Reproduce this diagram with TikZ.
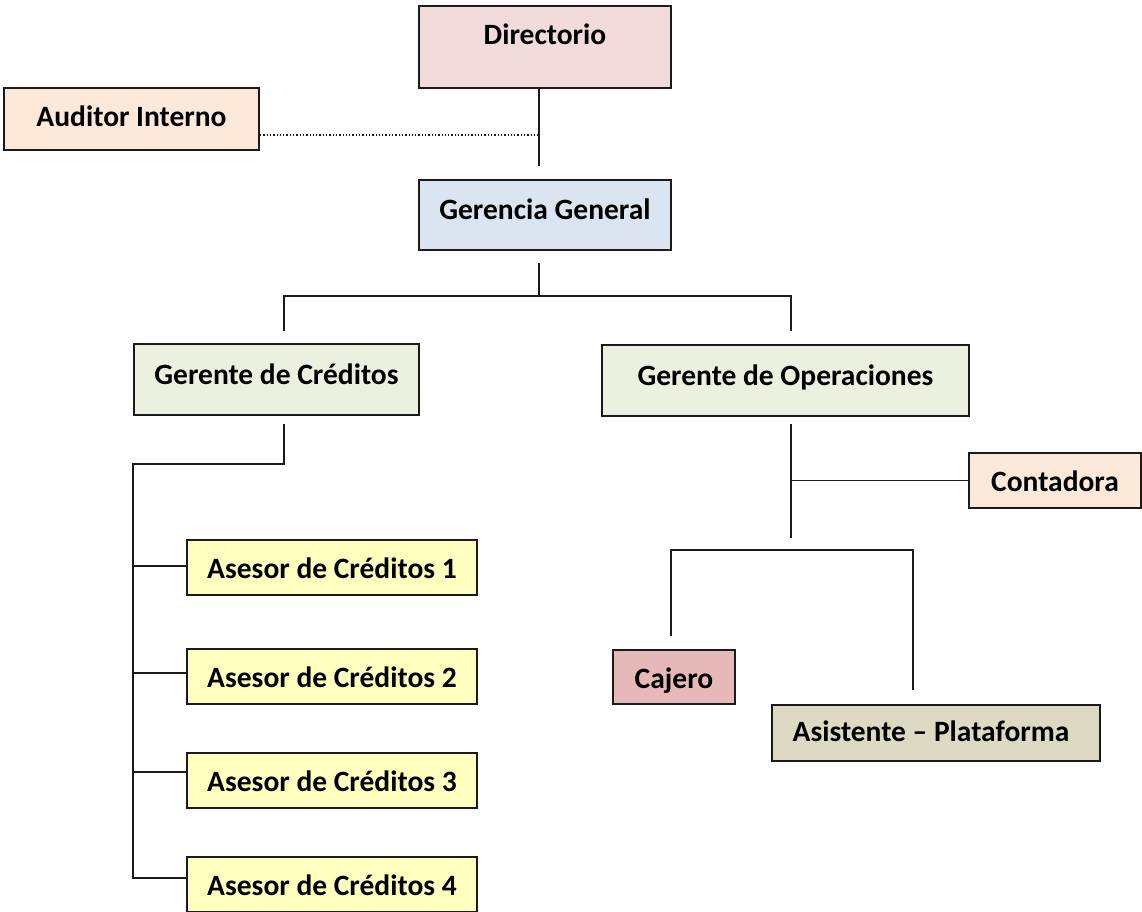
\documentclass[tikz,border=0pt]{standalone}
\usepackage{fontspec}
\setmainfont{Carlito}
\definecolor{cDir}{HTML}{F2DCDB}
\definecolor{cAud}{HTML}{FDE9D9}
\definecolor{cGen}{HTML}{DBE5F1}
\definecolor{cMgr}{HTML}{EBF1DE}
\definecolor{cAse}{HTML}{FFFFC0}
\definecolor{cCaj}{HTML}{E6B9B8}
\definecolor{cAsi}{HTML}{DDD9C3}
\definecolor{cLine}{HTML}{1A1A1A}
\tikzset{
  box/.style={draw=cLine, line width=2pt, inner sep=0pt, anchor=north west,
    align=center, font=\bfseries\fontsize{29.5}{35}\selectfont},
  link/.style={draw=cLine, line width=1.8pt},
  dotlink/.style={draw=cLine, line width=1.3pt, dotted}
}
\begin{document}
\begin{tikzpicture}[x=1pt, y=-1pt]
\useasboundingbox (0,0) rectangle (1142,911);

% boxes
\node[box, fill=cDir, minimum width=252pt, text height=38pt, text depth=44pt] (dir) at (418,5) {Directorio};
\node[box, fill=cAud, minimum width=255pt, text height=38pt, text depth=24pt] (aud) at (3,87) {Auditor Interno};
\node[box, fill=cGen, minimum width=252pt, text height=39pt, text depth=31pt] (gg) at (418,179) {Gerencia General};
\node[box, fill=cMgr, minimum width=285pt, text height=40pt, text depth=31pt] (gc) at (133,343) {Gerente de Créditos};
\node[box, fill=cMgr, minimum width=367pt, text height=40pt, text depth=31pt] (go) at (601,344) {Gerente de Operaciones};
\node[box, fill=cAud, minimum width=172pt, text height=38pt, text depth=17pt] (con) at (968,452) {Contadora};
\node[box, fill=cAse, minimum width=290pt, text height=38pt, text depth=17pt] (a1) at (186,539) {Asesor de Créditos 1};
\node[box, fill=cAse, minimum width=290pt, text height=38pt, text depth=17pt] (a2) at (186,648) {Asesor de Créditos 2};
\node[box, fill=cAse, minimum width=290pt, text height=38pt, text depth=17pt] (a3) at (186,752) {Asesor de Créditos 3};
\node[box, fill=cAse, minimum width=290pt, text height=38pt, text depth=17pt] (a4) at (186,856) {Asesor de Créditos 4};
\node[box, fill=cCaj, minimum width=122pt, text height=38pt, text depth=16pt] (caj) at (612,649) {Cajero};
\node[box, fill=cAsi, minimum width=328pt, text height=36pt, text depth=20pt] (asi) at (771,704) {Asistente – Plataforma\hspace*{10pt}};

% connector end points
\coordinate (dirEnd) at (539,166);
\coordinate (audJ) at (539,135);
\coordinate (ggBot) at (539,263);
\coordinate (ggBar) at (539,296);
\coordinate (gcTop) at (284,331);
\coordinate (goTop) at (791,331);
\coordinate (gcBot) at (284,424);
\coordinate (gcTurn) at (284,464);
\coordinate (spine) at (133,464);
\coordinate (spineEnd) at (133,879);
\coordinate (goBot) at (791,424);
\coordinate (goEnd) at (791,538);
\coordinate (opsBar) at (671,550);
\coordinate (cjTop) at (671,636);
\coordinate (asTop) at (913,690);

% board to general management
\draw[link] (dir.south -| dirEnd) -- (dirEnd);
\draw[dotlink] (audJ -| aud.east) -- (audJ);

% general management to managers
\draw[link] (ggBot) -- (ggBar);
\draw[link] (gcTop) -- (gcTop |- ggBar) -- (goTop |- ggBar) -- (goTop);

% credit branch
\draw[link] (gcBot) -- (gcTurn) -- (spine) -- (spineEnd);
\draw[link] ([yshift=-27pt]a1.north west) -- ++(-53,0);
\draw[link] ([yshift=-25pt]a2.north west) -- ++(-53,0);
\draw[link] ([yshift=-20pt]a3.north west) -- ++(-53,0);
\draw[link] ([yshift=-22pt]a4.north west) -- ++(-53,0);

% operations branch
\draw[link] (goBot) -- (goEnd);
\draw[link] (goBot |- con.west) -- (con.west);
\draw[link] (cjTop) -- (opsBar) -- (asTop |- opsBar) -- (asTop);
\end{tikzpicture}
\end{document}
